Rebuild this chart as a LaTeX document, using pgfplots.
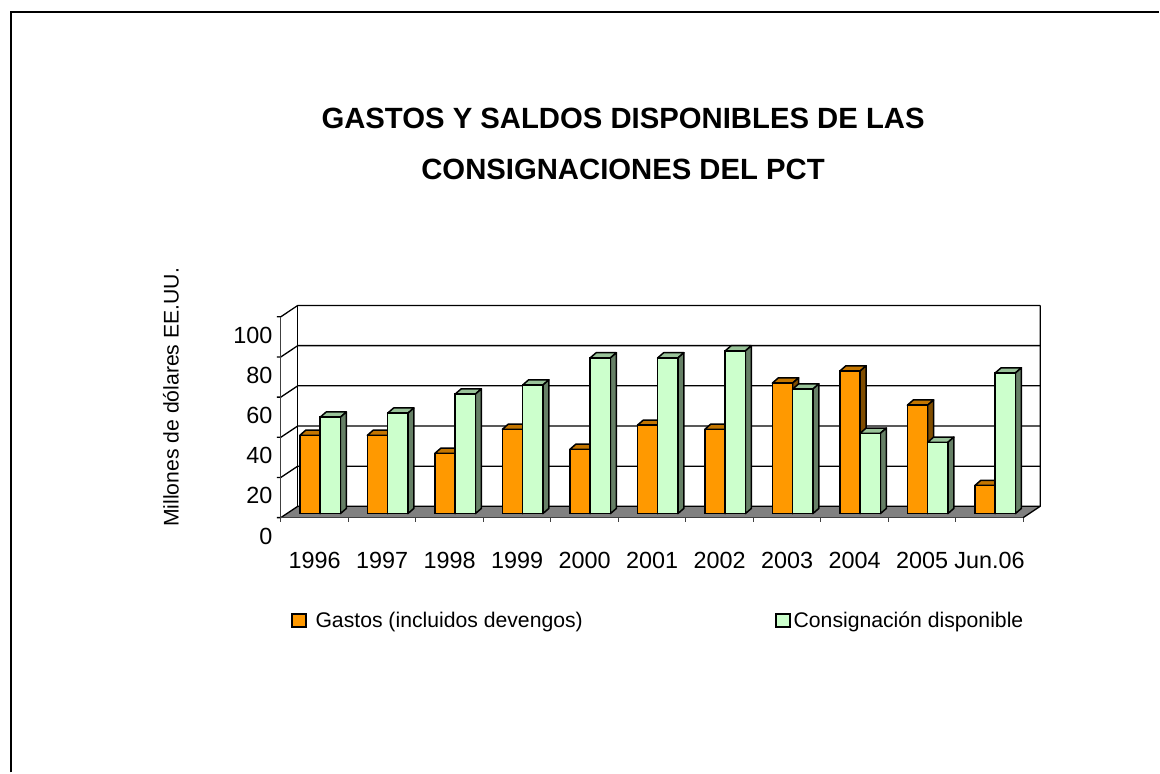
\documentclass[border=0pt]{standalone}
\usepackage{fontspec}
\setmainfont{Liberation Sans}
\usepackage{pgfplots}
\usepackage{pgfplotstable}
\pgfplotsset{compat=1.18}
\definecolor{oF}{HTML}{FF9900}
\definecolor{oT}{HTML}{C47600}
\definecolor{oS}{HTML}{804D00}
\definecolor{gF}{HTML}{CCFFCC}
\definecolor{gT}{HTML}{99C399}
\definecolor{gS}{HTML}{668066}
\pgfplotstableread{
i gastos disponible
0 39 48
1 39 50
2 30 59.5
3 42 64
4 32 77.5
5 44 77.5
6 42 81
7 65 62
8 71 40
9 54 35.5
10 14 70
}\datos
\def\dxx{0.0888}
\def\dyy{2.6}
\newcommand\Caras[5]{% x0 x1 value top side
  \pgfmathsetmacro\xb{#1+\dxx}\pgfmathsetmacro\xc{#2+\dxx}\pgfmathsetmacro\vb{#3+\dyy}%
  \edef\tmp{\noexpand\addplot[forget plot,fill=#4,draw=black,line width=1.5pt,line join=round] coordinates {(#1,#3)(\xb,\vb)(\xc,\vb)(#2,#3)} --cycle;
  \noexpand\addplot[forget plot,fill=#5,draw=black,line width=1.5pt,line join=round] coordinates {(#2,#3)(\xc,\vb)(\xc,\dyy)(#2,0)} --cycle;}\tmp}
\begin{document}
\begin{tikzpicture}
\begin{axis}[
  scale only axis, width=1160pt, height=773pt,
  xmin=-4.743, xmax=12.43, ymin=-128.86, ymax=255.72,
  clip=false,
  axis line style={draw=none}, tick style={draw=none},
  /pgf/number format/assume math mode=true,
  xtick={0,...,10},
  xticklabels={1996,1997,1998,1999,2000,2001,2002,2003,2004,2005,Jun.06},
  xticklabel style={font=\fontsize{23.4}{27}\selectfont, yshift=224pt, xshift=-5.6pt},
  ytick={0,20,40,60,80,100},
  yticklabel style={font=\fontsize{23.4}{27}\selectfont, xshift=276pt, yshift=-22.5pt},
  title={GASTOS Y SALDOS DISPONIBLES DE LAS\\CONSIGNACIONES DEL PCT},
  title style={at={(rel axis cs:0.5375,0.8053)},anchor=center,align=center,
    font=\fontsize{29.3}{51}\selectfont\bfseries},
  ylabel={Millones de dólares EE.UU.},
  every axis y label/.style={at={(rel axis cs:0.1475,0.4855)},rotate=90,anchor=center,
    font=\fontsize{21.2}{25}\selectfont},
  legend columns=2,
  legend cell align=left,
  legend style={at={(rel axis cs:0.2509,0.1966)},anchor=west,draw=none,fill=none,inner sep=0pt,
    font=\fontsize{21.2}{25}\selectfont,
    /tikz/column 1/.style={column sep=7pt},
    /tikz/column 2/.style={column sep=190.5pt},
    /tikz/column 3/.style={column sep=1pt}},
]
\addlegendimage{legend image code/.code={\draw[fill=oF,draw=black,line width=1.5pt](0pt,-6.5pt) rectangle (14pt,6.5pt);}}
\addlegendentry{Gastos (incluidos devengos)}
\addlegendimage{legend image code/.code={\draw[fill=gF,draw=black,line width=1.5pt](0pt,-6.5pt) rectangle (14pt,6.5pt);}}
\addlegendentry{Consignación disponible}
% floor
\addplot[forget plot,fill=gray,draw=none] coordinates {(-0.583,-2)(-0.332,3.63)(10.667,3.63)(10.415,-2)} --cycle;
% back wall grid
\foreach \v in {0,20,...,100}{
  \pgfmathsetmacro\vb{\v+3.63}\pgfmathsetmacro\vf{\v-2}
  \edef\tmp{\noexpand\addplot[forget plot,black,line width=1.3pt] coordinates {(-0.64,\vf)(-0.583,\vf)(-0.332,\vb)(10.667,\vb)};}\tmp
}
\addplot[forget plot,black,line width=1.3pt] coordinates {(-0.332,3.63)(-0.332,103.63)};
\addplot[forget plot,black,line width=1.3pt] coordinates {(10.667,103.63)(10.667,3.63)(10.415,-2)};
\addplot[forget plot,black!75,line width=1.3pt] coordinates {(-0.583,98)(-0.583,-2)(10.415,-2)};
\foreach \k in {0,...,11}{
  \pgfmathsetmacro\xk{-0.583+\k*0.99982}
  \edef\tmp{\noexpand\addplot[forget plot,black!75,line width=1.3pt] coordinates {(\xk,-2)(\xk,-4)};}\tmp
}
% orange faces
\foreach \i/\v in {0/39,1/39,2/30,3/42,4/32,5/44,6/42,7/65,8/71,9/54,10/14}{
  \pgfmathsetmacro\xa{\i-0.3}\Caras{\xa}{\i}{\v}{oT}{oS}
}
\addplot[forget plot,ybar,bar width=0.3,bar shift=-0.15,fill=oF,draw=black,line width=1.5pt] table[x=i,y=gastos] {\datos};
% green faces
\foreach \i/\v in {0/48,1/50,2/59.5,3/64,4/77.5,5/77.5,6/81,7/62,8/40,9/35.5,10/70}{
  \pgfmathsetmacro\xa{\i+0.3}\Caras{\i}{\xa}{\v}{gT}{gS}
}
\addplot[forget plot,ybar,bar width=0.3,bar shift=0.15,fill=gF,draw=black,line width=1.5pt] table[x=i,y=disponible] {\datos};
% frame
\draw[black,line width=1.7pt] (rel axis cs:0.00948,0) -- (rel axis cs:0.00948,0.98448) -- (rel axis cs:1,0.98448);
\end{axis}
\end{tikzpicture}
\end{document}
